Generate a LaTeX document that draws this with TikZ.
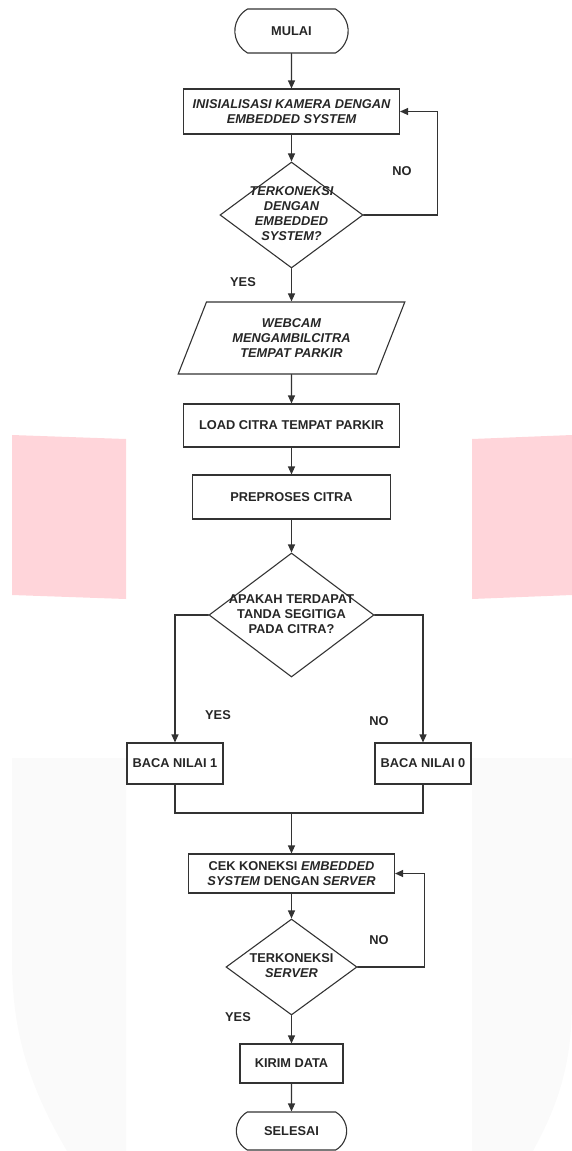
\documentclass[tikz,border=0pt]{standalone}
\usepackage{fontspec}
\setmainfont{Liberation Sans}
\usetikzlibrary{shapes.geometric, shapes.misc, arrows.meta, positioning, calc}
\definecolor{wmpink}{HTML}{FFD5DA}
\definecolor{wmgray}{HTML}{FAFAFA}
\definecolor{linegray}{HTML}{333333}
\newcommand{\flowfont}{\fontsize{12.8}{15}\selectfont\bfseries}
\newcommand{\flattext}[1]{\makebox[0pt]{\smash{\raisebox{-3pt}{\begin{tabular}{@{}c@{}}#1\end{tabular}}}}}
\tikzset{
  flowline/.style={draw=linegray, line width=1.1pt},
  flowarrow/.style={flowline, -{Triangle[width=7pt,length=8pt]}},
  process/.style={rectangle, draw=linegray, line width=1.1pt, align=center, font=\flowfont, text=black!85, inner sep=1pt},
  terminal/.style={rounded rectangle, rounded rectangle arc length=120, draw=linegray, line width=1.1pt, font=\flowfont, text=black!85},
  decision/.style={diamond, draw=linegray, line width=1.1pt, inner sep=0pt, font=\flowfont, text=black!85},
  io/.style={trapezium, trapezium left angle=64, trapezium right angle=116, trapezium stretches=true, draw=linegray, line width=1.1pt, align=center, font=\flowfont, text=black!85, inner sep=1pt},
  answer/.style={font=\flowfont, text=black!85}
}
\begin{document}
\begin{tikzpicture}[x=1pt, y=-1pt, line cap=round]
    \useasboundingbox (0,0) rectangle (572,1151);
    % watermark sullo sfondo
    \fill[wmpink] (12,435) -- (126,439) -- (126,599) -- (12,595) -- cycle;
    \fill[wmpink] (472,439) -- (572,435) -- (572,595) -- (472,599) -- cycle;
    \fill[wmgray] (12,758) -- (126,758) -- (126,1151) -- (67,1151) .. controls (28,1085) and (12,1030) .. (12,960) -- cycle;
    \fill[wmgray] (472,758) -- (572,758) -- (572,1000) .. controls (572,1065) and (558,1105) .. (533,1151) -- (472,1151) -- cycle;

    % blocchi
    \node[terminal, minimum width=120pt, minimum height=44pt] (start) at (291.5,31) {MULAI};
    \node[process, minimum width=216pt, minimum height=45pt] (init) at (291.5,111.5) {\itshape INISIALISASI KAMERA DENGAN\\\itshape EMBEDDED SYSTEM};
    \node[decision, minimum width=143pt, minimum height=106pt] (cekcam) at (291.5,215) {\flattext{\itshape TERKONEKSI\\\itshape DENGAN\\\itshape EMBEDDED\\\itshape SYSTEM?}};
    \node[io, minimum width=227pt, minimum height=72pt] (webcam) at (291.5,338) {\itshape WEBCAM\\\itshape MENGAMBILCITRA\\\itshape TEMPAT PARKIR};
    \node[process, minimum width=216pt, minimum height=43pt] (load) at (291.5,425.5) {LOAD CITRA TEMPAT PARKIR};
    \node[process, minimum width=198pt, minimum height=44pt] (prep) at (291.5,497) {PREPROSES CITRA};
    \node[decision, minimum width=165pt, minimum height=124pt] (segitiga) at (291.5,615) {\flattext{APAKAH TERDAPAT\\TANDA SEGITIGA\\PADA CITRA?}};
    \node[process, minimum width=96pt, minimum height=41pt] (baca1) at (175,763.5) {BACA NILAI 1};
    \node[process, minimum width=96pt, minimum height=41pt] (baca0) at (423,763.5) {BACA NILAI 0};
    \node[process, minimum width=206pt, minimum height=39pt] (cekserver) at (291.5,873.5) {CEK KONEKSI \textit{EMBEDDED}\\\textit{SYSTEM} DENGAN \textit{SERVER}};
    \node[decision, minimum width=131pt, minimum height=96pt] (konserver) at (291.5,967) {\flattext{TERKONEKSI\\\itshape SERVER}};
    \node[process, minimum width=103pt, minimum height=39pt] (kirim) at (291.5,1063.5) {KIRIM DATA};
    \node[terminal, minimum width=117pt, minimum height=38pt] (stop) at (291.5,1131) {SELESAI};

    % frecce
    \draw[flowarrow] (start) -- (init);
    \draw[flowarrow] (init) -- (cekcam);
    \draw[flowarrow] (cekcam.east) -- ++(74,0) |- (init.east);
    \draw[flowarrow] (cekcam) -- (webcam);
    \draw[flowarrow] (webcam) -- (load);
    \draw[flowarrow] (load) -- (prep);
    \draw[flowarrow] (prep) -- (segitiga);
    \draw[flowarrow] (segitiga.west) -| (baca1.north);
    \draw[flowarrow] (segitiga.east) -| (baca0.north);
    \coordinate (merge) at (291.5,813);
    \draw[flowline] (baca1.south) |- (merge) -| (baca0.south);
    \draw[flowarrow] (merge) -- (cekserver);
    \draw[flowarrow] (cekserver) -- (konserver);
    \draw[flowarrow] (konserver.east) -- ++(67,0) |- (cekserver.east);
    \draw[flowarrow] (konserver) -- (kirim);
    \draw[flowarrow] (kirim) -- (stop);

    % etichette yes/no
    \node[answer] (no1) at (402,171) {NO};
    \node[answer] (yes1) at (243,282) {YES};
    \node[answer] (yes2) at (218,715) {YES};
    \node[answer] (no2) at (379,721) {NO};
    \node[answer] (no3) at (379,940) {NO};
    \node[answer] (yes3) at (238,1017) {YES};
\end{tikzpicture}
\end{document}
